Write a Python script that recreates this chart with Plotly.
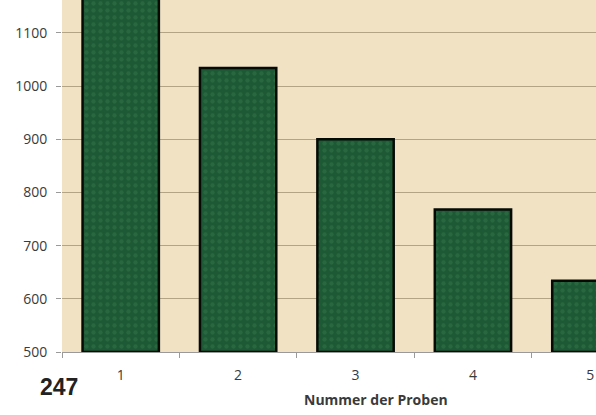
import plotly.graph_objects as go

categories = [1, 2, 3, 4, 5]
values = [1168, 1034, 900, 768, 634]
y_ticks = [500, 600, 700, 800, 900, 1000, 1100]
x_title = "Nummer der Proben"
page_label = "247"
baseline = 500

fig = go.Figure()
fig.add_trace(go.Bar(
    x=categories, y=[v - baseline for v in values], base=baseline, width=0.65,
    hoverinfo="skip",
    marker=dict(color="#1d5934", line=dict(color="#050a05", width=2.5),
                pattern=dict(shape=".", fgcolor="#4f9a6a", fgopacity=0.22, size=7, solidity=0.3)),
))

fig.update_layout(
    width=596, height=415,
    margin=dict(l=62, r=0, t=0, b=63, autoexpand=False),
    paper_bgcolor="white",
    plot_bgcolor="#f1e2c4",
    showlegend=False,
    font=dict(family="Open Sans, Liberation Sans, sans-serif", size=14, color="#3a3a3a"),
)
fig.update_xaxes(
    range=[0.5, 5.048], tickvals=categories, ticktext=[str(c) for c in categories],
    ticks="", ticklen=0, showgrid=False, zeroline=False,
    showline=True, linecolor="#9a9a9a", linewidth=1,
    tickfont=dict(size=14), ticklabelstandoff=10,
    minor=dict(tickvals=[0.5, 1.5, 2.5, 3.5, 4.5], ticks="outside", ticklen=5, tickcolor="#9a9a9a", showgrid=False),
)
fig.update_yaxes(
    range=[500, 1161.7], tickvals=y_ticks,
    ticks="outside", ticklen=5, tickcolor="#9a9a9a",
    showgrid=True, gridcolor="#b4a486", gridwidth=1,
    zeroline=False, showline=False, tickfont=dict(size=14), ticklabelstandoff=6,
)
fig.add_annotation(
    text="<b>" + x_title + "</b>", xref="paper", yref="paper",
    x=(376 - 62) / 534, y=-(400 - 352) / 352, xanchor="center", yanchor="middle",
    showarrow=False, font=dict(size=14, color="#3a3a3a"),
)
fig.add_annotation(
    text="<b>" + page_label + "</b>", xref="paper", yref="paper",
    x=-(62 - 38) / 534, y=-(387 - 352) / 352, xanchor="left", yanchor="middle",
    showarrow=False, font=dict(family="Liberation Sans, sans-serif", size=23, color="#222222"),
)
fig.write_html("out.html", config={"displayModeBar": False},
               post_script="document.body.style.margin='0';document.body.style.overflow='hidden';")
